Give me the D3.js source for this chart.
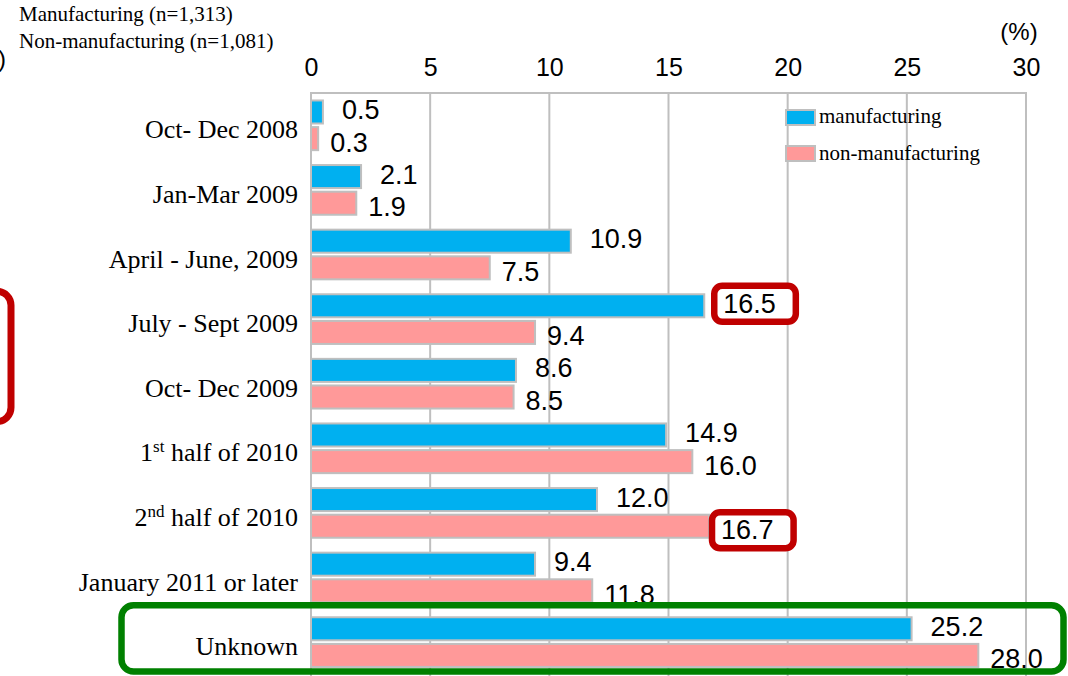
<!DOCTYPE html>
<html><head><meta charset="utf-8">
<script src="https://cdn.jsdelivr.net/npm/d3@7"></script>
<style>body{margin:0;background:#fff}svg{display:block}</style>
</head><body>
<script>
const categories = ["Oct- Dec 2008","Jan-Mar 2009","April - June, 2009","July - Sept 2009","Oct- Dec 2009","1st half of 2010","2nd half of 2010","January 2011 or later","Unknown"];
const manufacturing = [0.5, 2.1, 10.9, 16.5, 8.6, 14.9, 12.0, 9.4, 25.2];
const nonManufacturing = [0.3, 1.9, 7.5, 9.4, 8.5, 16.0, 16.7, 11.8, 28.0];
const seriesNames = ["manufacturing","non-manufacturing"];
const xTicks = [0,5,10,15,20,25,30];
const notes = ["Manufacturing (n=1,313)","Non-manufacturing (n=1,081)"];

const W=1068,H=676;
const colors = {"manufacturing":"#00B0F0","non-manufacturing":"#FF9999"};
const svg = d3.select("body").append("svg").attr("width",W).attr("height",H);

const x = d3.scaleLinear().domain([0,30]).range([311,1026]);
const y = d3.scaleBand().domain(categories).range([93,674.4]).paddingInner(0.2).paddingOuter(0.1);
const ys = d3.scaleBand().domain(seriesNames).range([0,y.bandwidth()]).paddingInner(0.06);

// gridlines
svg.append("g").selectAll("line").data(xTicks).join("line")
  .attr("x1",d=>x(d)).attr("x2",d=>x(d)).attr("y1",93).attr("y2",H)
  .attr("stroke","#bfbfbf").attr("stroke-width",2);
svg.append("line").attr("x1",x(0)-1).attr("x2",x(30)+1).attr("y1",93).attr("y2",93)
  .attr("stroke","#bfbfbf").attr("stroke-width",2);

// top axis labels
const axis = d3.axisTop(x).tickValues(xTicks).tickSize(0).tickPadding(0).tickFormat(d3.format("d"));
const ag = svg.append("g").attr("transform","translate(0,76)").call(axis);
ag.select(".domain").remove();
ag.selectAll("text").attr("font-family","Liberation Sans, Arial, sans-serif").attr("font-size",25).attr("fill","#000").attr("dy",0);
svg.append("text").attr("x",1019).attr("y",40).attr("text-anchor","middle")
  .attr("font-family","Liberation Sans, Arial, sans-serif").attr("font-size",24).text("(%)");
svg.append("text").attr("x",6).attr("y",67).attr("text-anchor","end")
  .attr("font-family","Liberation Sans, Arial, sans-serif").attr("font-size",24).text(")");

// notes
svg.selectAll("text.note").data(notes).join("text").attr("class","note")
  .attr("x",19).attr("y",(d,i)=>21+i*27)
  .attr("font-family","Liberation Serif, Times New Roman, serif").attr("font-size",21).text(d=>d);

// bars
const rows = categories.map((c,i)=>({c, vals:[{s:"manufacturing",v:manufacturing[i]},{s:"non-manufacturing",v:nonManufacturing[i]}]}));
const groups = svg.append("g").selectAll("g").data(rows).join("g").attr("transform",d=>`translate(0,${y(d.c)})`);
groups.selectAll("rect").data(d=>d.vals).join("rect")
  .attr("x",x(0)).attr("y",d=>ys(d.s)+1).attr("width",d=>x(d.v)-x(0)).attr("height",ys.bandwidth()-2)
  .attr("fill",d=>colors[d.s]).attr("stroke","#bfbfbf").attr("stroke-width",2);

// category labels
const serif = "Liberation Serif, Times New Roman, serif";
const cl = svg.append("g").selectAll("text").data(categories).join("text")
  .attr("x",298).attr("y",d=>y(d)+y.bandwidth()/2+13).attr("text-anchor","end")
  .attr("font-family",serif).attr("font-size",26);
cl.each(function(d){
  const t=d3.select(this);
  const m=d.match(/^(\d)(st|nd|rd|th)(.*)$/);
  if(m){
    t.append("tspan").text(m[1]);
    t.append("tspan").attr("font-size",17).attr("dy",-9).text(m[2]);
    t.append("tspan").attr("dy",9).text(m[3]);
  } else t.text(d);
});

// value labels
const lblG = svg.append("g");
const boxG = lblG.append("g");
const labels = [];
rows.forEach(r=>{
  r.vals.forEach(v=>{
    const isM = v.s==="manufacturing";
    const t = lblG.append("text")
      .attr("x",x(v.v)+(isM?19:12))
      .attr("y",y(r.c)+ys(v.s)+ys.bandwidth()/2+(isM?7:13))
      .attr("font-family","Liberation Sans, Arial, sans-serif").attr("font-size",27)
      .text(d3.format(".1f")(v.v));
    labels.push({c:r.c,s:v.s,v:v.v,node:t.node()});
  });
});
// highlight boxes around peak values
const highlight = [{c:"July - Sept 2009",s:"manufacturing"},{c:"2nd half of 2010",s:"non-manufacturing"}];
highlight.forEach(h=>{
  const l = labels.find(o=>o.c===h.c&&o.s===h.s);
  const b = l.node.getBBox();
  boxG.append("rect").attr("x",b.x-9).attr("y",b.y-3).attr("width",b.width+29).attr("height",b.height+6)
    .attr("rx",8).attr("fill","#fff").attr("stroke","#C00000").attr("stroke-width",6.5);
});

// group boxes
svg.append("rect").attr("x",-100).attr("y",y("July - Sept 2009")-2)
  .attr("width",111).attr("height",y("Oct- Dec 2009")+y.bandwidth()+12-(y("July - Sept 2009")-2))
  .attr("rx",14).attr("fill","none").attr("stroke","#C00000").attr("stroke-width",7);
svg.append("rect").attr("x",121.5).attr("y",y("Unknown")-11)
  .attr("width",x(30)+37.5-121.5).attr("height",y.bandwidth()+14.5)
  .attr("rx",12).attr("fill","none").attr("stroke","#008000").attr("stroke-width",6.5);

// legend
const lg = svg.append("g");
seriesNames.forEach((s,i)=>{
  lg.append("rect").attr("x",786).attr("y",110+i*36).attr("width",29).attr("height",15)
    .attr("fill",colors[s]).attr("stroke","#bfbfbf").attr("stroke-width",2);
  lg.append("text").attr("x",819).attr("y",123+i*37).attr("font-family",serif).attr("font-size",21).text(s);
});
</script>
</body></html>
